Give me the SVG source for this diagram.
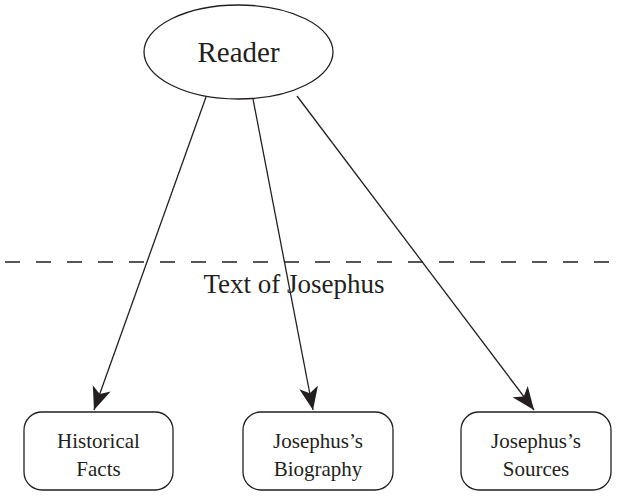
<svg xmlns="http://www.w3.org/2000/svg" width="624" height="502" viewBox="0 0 624 502">
<style>
.shape{fill:#fff;stroke:#231f20;stroke-width:1.3}
.edge{stroke:#231f20;stroke-width:1.3;fill:none}
.lbl{font-family:"Liberation Serif",serif;fill:#231f20;text-anchor:middle}
</style>
<defs>
<marker id="ah" markerUnits="userSpaceOnUse" markerWidth="24" markerHeight="22" viewBox="0 0 24 22" refX="23" refY="11" orient="auto">
<path d="M0,1.5 L23,11 L0,20.5 L6,11 Z" fill="#231f20"/>
</marker>
</defs>
<rect width="624" height="502" fill="#fff"/>
<g id="divider">
<line x1="5" y1="262" x2="624" y2="262" stroke="#231f20" stroke-width="1.3" stroke-dasharray="15,16"/>
<text class="lbl" x="294" y="293" font-size="27">Text of Josephus</text>
</g>
<g id="edges">
<line class="edge" x1="206" y1="97" x2="94" y2="410" marker-end="url(#ah)"/>
<line class="edge" x1="253" y1="99" x2="313" y2="410" marker-end="url(#ah)"/>
<line class="edge" x1="297" y1="96" x2="534" y2="410" marker-end="url(#ah)"/>
</g>
<g id="reader">
<ellipse class="shape" cx="238.5" cy="52" rx="94.5" ry="47"/>
<text class="lbl" x="238.5" y="62" font-size="29">Reader</text>
</g>
<g id="facts">
<rect class="shape" x="24" y="412" width="149" height="78" rx="18"/>
<text class="lbl" x="98.5" y="448" font-size="21">Historical</text>
<text class="lbl" x="98.5" y="476" font-size="21">Facts</text>
</g>
<g id="biography">
<rect class="shape" x="243" y="412" width="150" height="78" rx="18"/>
<text class="lbl" x="318" y="448" font-size="21">Josephus’s</text>
<text class="lbl" x="318" y="476" font-size="21">Biography</text>
</g>
<g id="sources">
<rect class="shape" x="461" y="412" width="150" height="78" rx="18"/>
<text class="lbl" x="536" y="448" font-size="21">Josephus’s</text>
<text class="lbl" x="536" y="476" font-size="21">Sources</text>
</g>
</svg>
